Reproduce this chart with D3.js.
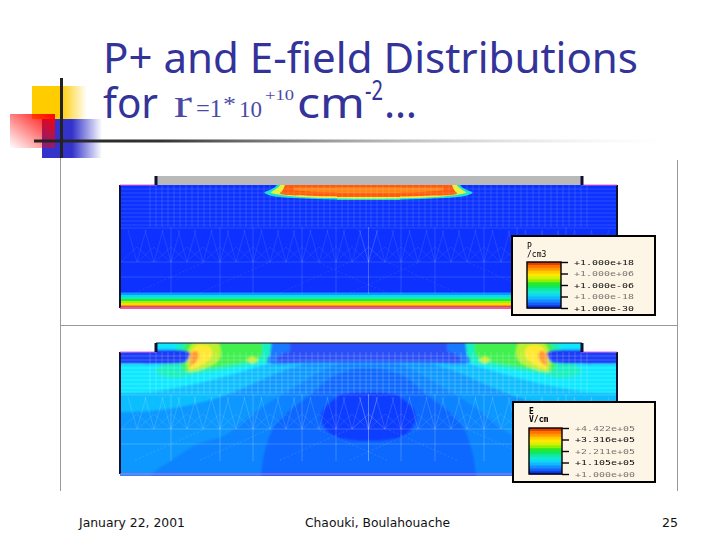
<!DOCTYPE html>
<html>
<head>
<meta charset="utf-8">
<script src="https://cdn.jsdelivr.net/npm/d3@7"></script>
<style>
  html, body { margin: 0; padding: 0; background: #fff; }
  svg { display: block; }
  .title { font-family: "Noto Sans", sans-serif; fill: #333399; }
  .foot { font-family: "DejaVu Sans", sans-serif; font-size: 13px; fill: #111; }
  .odd { font-family: "Liberation Serif", serif; fill: #4a4aa6; }
  .legend text { font-family: "DejaVu Sans Mono", monospace; font-size: 10px; fill: #000; }
  .legend text.name { font-size: 8px; }
</style>
</head>
<body>
<script>
// all device coordinates below: x and depth in simulation units
var gateRange = [3.6, 46.2];
var deviceWidth = 49.7;

var deviceOutline = [[0, 0], [3.6, 0], [3.6, -0.9], [46.2, -0.9], [46.2, 0], [49.7, 0], [49.7, 12.4], [0, 12.4]];

// P+ panel
var holeBackground = '#0a30ff';
var holeContours = [
  { color: '#10e0d0', pts: [[15.8, -2], [15.7, 0], [15.1, 0.45], [14.45, 0.75], [15, 1.05], [19, 1.38], [25, 1.5], [28, 1.5], [28, 1.5], [28, -2], [28, -2]] },
  { color: '#e8f030', pts: [[16.1, -2], [16, 0], [15.6, 0.4], [15.1, 0.75], [16, 0.98], [19, 1.26], [25, 1.36], [28, 1.36], [28, 1.36], [28, -2], [28, -2]] },
  { color: '#ff5a10', pts: [[16.6, -2], [16.5, 0], [16.2, 0.6], [16, 0.85], [19, 1.08], [25, 1.2], [28, 1.2], [28, 1.2], [28, -2], [28, -2]] },
  { color: '#ff8412', pts: [[17.4, 0.25], [25, 0.25], [28, 0.25], [28, 0.25], [28, 0.8], [28, 0.8], [25, 0.8], [20, 0.72], [17.4, 0.55]] }
];
var holeStripeDepths = [10.75, 11, 11.2, 11.4, 11.6, 11.8, 12, 12.15];
var holeStripeColors = ['#0a98ff', '#0ad8f8', '#10f0b0', '#18ee40', '#a8f000', '#ffd800', '#ff9800', '#ff5040'];

// E-field panel
var fieldBackground = '#0a68ff';
var fieldContours = [
  { color: '#0a84ff', pts: [[-2, -3], [-2, 14], [14.1, 14], [14.1, 12.4], [14.5, 9.8], [15.5, 7.3], [17, 5.8], [19, 4.3], [21, 2.6], [23, 1.8], [25, 1.6], [28, 1.8], [28, 1.8], [28, -3], [28, -3]] },
  { color: '#0a98ff', pts: [[-2, -3], [-2, 14], [2, 14], [3.2, 12.2], [5.5, 10.6], [7.5, 9.3], [10.5, 8.3], [12.5, 6.8], [14.5, 5.3], [17, 3.8], [20, 2], [22.5, 1], [25, 0.6], [28, 1], [28, 1], [28, -3], [28, -3]] },
  { color: '#0abeff', pts: [[-2, -3], [-2, 6], [0, 6], [3, 5.9], [6, 5.5], [10, 4.5], [13, 3.3], [16, 2], [19, 1], [21, 0], [22, -3]] },
  { color: '#10e8ff', pts: [[-2, -3], [-2, 4.1], [0, 4.1], [3, 4], [7, 3.3], [11, 2.3], [14, 1.4], [17, 0.6], [18, -0.2], [18.5, -3]] },
  { color: '#18f0c0', pts: [[3.4, 2], [5, 2.6], [8, 2.2], [11, 1.7], [14.3, 1.1], [15.6, 0.5], [15.6, -1.2], [6.2, -1.2], [5.2, 0.4]] },
  { color: '#40f050', pts: [[6.3, 1.9], [9, 1.6], [12, 1.1], [14, 0.5], [14, -1.2], [7, -1.2], [6, 0.5]] },
  { color: '#b8f030', pts: [[6.8, 2], [8, 1.8], [9.8, 0.9], [10.1, 0], [9.7, -1], [7.4, -1], [6.6, 0.4]] },
  { color: '#ffe830', pts: [[7, 1.7], [8.2, 1.3], [9.2, 0.4], [9, -0.5], [7.6, -0.6], [6.9, 0.4]] },
  { color: '#ff9a30', pts: [[7, 1.45], [7.6, 1], [7.9, 0.3], [7.6, -0.1], [7, 0.1]] },
  { color: '#c8f030', pts: [[12.6, 0.8], [13.2, 0.45], [13.8, 0.8], [13.2, 1.15]] },
  { color: '#1e3cf8', pts: [[-1, 0], [6.9, 0], [6.9, 0.5], [6.6, 1], [5, 1.18], [-1, 1.18]] },
  { color: '#1a78ff', pts: [[15.2, -1.2], [28, -1.2], [28, -1.2], [28, 1.05], [28, 1.05], [20, 1.1], [14.7, 1], [15, 0.3]] },
  { color: '#2a50f8', pts: [[17, -1.2], [28, -1.2], [28, -1.2], [28, 0.9], [28, 0.9], [20, 0.95], [15.6, 0.85], [16.2, 0.2], [17, 0]] },
  { color: '#0a3cff', pts: [[28, 4.3], [25, 4], [22.5, 4.2], [20.8, 5.2], [20.1, 6.5], [20.8, 8], [22.5, 8.7], [25, 8.9], [28, 8.6]] }
];

// solver mesh, left half
var meshRows = [0.4, 0.8, 1.2, 1.6, 2, 2.4, 2.8, 3.2, 3.6, 4];
var meshColumns = [3, 3.6, 4.2, 4.8, 5.4, 6, 6.6, 7.2, 7.8, 8.4, 9, 9.6, 10.2, 10.8, 11.4, 12, 12.6, 13.2, 13.8, 14.4, 15, 15.6, 16.2, 16.8, 17.4, 18, 18.6, 19.2, 19.8, 20.4, 21, 21.6, 22.2, 22.8, 23.4, 24, 24.6];
var meshHorizontals = [4.3, 7.7, 9.2];
var meshVerticals = [5.1, 10, 13.3, 18.2, 21.6, 24.85];
var meshFans = [1.7, 3.4, 5.1, 6.7, 8.3, 10, 11.6, 13.3, 15, 16.6, 18.2, 19.9, 21.6, 23.2, 24.85];
var meshDiagonals = [1.5, 8, 16, 23];

// legends
var legendBands = ['#d84000', '#ff7000', '#ff9a00', '#ffc800', '#ffe800', '#d8f000', '#90f000', '#30e820', '#10e860', '#10e8a0', '#10e8d0', '#10d8f0', '#10b8ff', '#1090ff', '#1060ff', '#0a30e0'];
var holeLegendTicks = [18, 6, -6, -18, -30];
var holeLegendLabels = ['+1.000e+18', '+1.000e+06', '+1.000e-06', '+1.000e-18', '+1.000e-30'];
var fieldLegendTicks = [442200, 331600, 221100, 110500, 1];
var fieldLegendLabels = ['+4.422e+05', '+3.316e+05', '+2.211e+05', '+1.105e+05', '+1.000e+00'];

var svg = d3.select('body').append('svg').attr('width', 720).attr('height', 540);
var defs = svg.append('defs');

var soft = defs.append('filter').attr('id', 'soft');
soft.append('feGaussianBlur').attr('stdDeviation', 0.4);
var softer = defs.append('filter').attr('id', 'softer');
softer.append('feGaussianBlur').attr('stdDeviation', 0.45);
var wash = defs.append('filter').attr('id', 'wash').attr('x', '-5%').attr('y', '-5%').attr('width', '110%').attr('height', '110%');
wash.append('feGaussianBlur').attr('stdDeviation', 0.9);

function fade(id, x2, y2, stops) {
  var grad = defs.append('linearGradient').attr('id', id).attr('x1', 0).attr('y1', y2 ? 1 : 0).attr('x2', x2).attr('y2', 0);
  stops.forEach(function (s) {
    grad.append('stop').attr('offset', s[0]).attr('stop-color', s[1]).attr('stop-opacity', s[2]);
  });
}
fade('yellowFade', 1, 0, [[0, '#ffcc00', 1], [0.52, '#ffcc00', 1], [1, '#ffcc00', 0]]);
fade('blueFade', 1, 0, [[0, '#3333cc', 1], [0.5, '#3333cc', 1], [1, '#3333cc', 0]]);
fade('redFade', 1, 1, [[0, '#ff0000', 0], [1, '#ff0000', 1]]);
fade('ruleFade', 1, 0, [[0, '#222222', 1], [0.2, '#333333', 1], [1, '#dddddd', 0]]);

// slide decoration
svg.append('rect').attr('x', 32).attr('y', 86).attr('width', 55).attr('height', 33).attr('fill', 'url(#yellowFade)');
svg.append('rect').attr('x', 42).attr('y', 119).attr('width', 60).attr('height', 39).attr('fill', 'url(#blueFade)');
svg.append('rect').attr('x', 10).attr('y', 114).attr('width', 45).attr('height', 34).attr('fill', 'url(#redFade)');
svg.append('rect').attr('x', 34).attr('y', 139.5).attr('width', 636).attr('height', 3).attr('fill', 'url(#ruleFade)');
svg.append('rect').attr('x', 60).attr('y', 78).attr('width', 3).attr('height', 80).attr('fill', '#222');

// frame round the two plots
var frame = svg.append('g').attr('stroke', '#9a9a9a').attr('stroke-width', 1);
frame.append('line').attr('x1', 60.5).attr('x2', 60.5).attr('y1', 158).attr('y2', 491);
frame.append('line').attr('x1', 677.5).attr('x2', 677.5).attr('y1', 160).attr('y2', 491);
frame.append('line').attr('x1', 60).attr('x2', 677).attr('y1', 325.5).attr('y2', 325.5);

// title
var title = svg.append('g');
title.append('text').attr('class', 'title').attr('x', 103).attr('y', 73).attr('font-size', 41)
  .attr('textLength', 535).attr('lengthAdjust', 'spacingAndGlyphs').text('P+ and E-field Distributions');
title.append('text').attr('class', 'title').attr('x', 103).attr('y', 118).attr('font-size', 41)
  .attr('textLength', 55).attr('lengthAdjust', 'spacingAndGlyphs').text('for');
title.append('text').attr('class', 'odd').attr('x', 174).attr('y', 117).attr('font-size', 40)
  .attr('textLength', 18).attr('lengthAdjust', 'spacingAndGlyphs').text('r');
title.append('text').attr('class', 'odd').attr('x', 196).attr('y', 117).attr('font-size', 25)
  .attr('textLength', 26).attr('lengthAdjust', 'spacingAndGlyphs').text('=1');
title.append('text').attr('class', 'odd').attr('x', 223).attr('y', 111).attr('font-size', 22)
  .attr('textLength', 13).attr('lengthAdjust', 'spacingAndGlyphs').text('*');
title.append('text').attr('class', 'odd').attr('x', 239).attr('y', 117).attr('font-size', 23)
  .attr('textLength', 23).attr('lengthAdjust', 'spacingAndGlyphs').text('10');
title.append('text').attr('class', 'odd').attr('x', 265).attr('y', 100).attr('font-size', 15)
  .attr('textLength', 29).attr('lengthAdjust', 'spacingAndGlyphs').text('+10');
title.append('text').attr('class', 'title').attr('x', 297).attr('y', 118).attr('font-size', 41)
  .attr('textLength', 68).attr('lengthAdjust', 'spacingAndGlyphs').text('cm');
title.append('text').attr('class', 'title').attr('x', 365).attr('y', 100).attr('font-size', 27)
  .attr('textLength', 18).attr('lengthAdjust', 'spacingAndGlyphs').text('-2');
title.append('text').attr('class', 'title').attr('x', 384).attr('y', 118).attr('font-size', 41)
  .attr('textLength', 33).attr('lengthAdjust', 'spacingAndGlyphs').text('…');

// footer
svg.append('text').attr('class', 'foot').attr('x', 79).attr('y', 527).attr('textLength', 106).attr('lengthAdjust', 'spacingAndGlyphs').text('January 22, 2001');
svg.append('text').attr('class', 'foot').attr('x', 305).attr('y', 527).attr('textLength', 145).attr('lengthAdjust', 'spacingAndGlyphs').text('Chaouki, Boulahouache');
svg.append('text').attr('class', 'foot').attr('x', 662).attr('y', 527).attr('textLength', 16).attr('lengthAdjust', 'spacingAndGlyphs').text('25');

var xLeft = d3.scaleLinear().domain([0, deviceWidth]).range([120, 617]);
var xRight = d3.scaleLinear().domain([0, deviceWidth]).range([617, 120]);

function drawPanel(id, yScale, background, contours, blurFilter) {
  var panel = svg.append('g');
  var outline = d3.line().x(function (d) { return xLeft(d[0]); }).y(function (d) { return yScale(d[1]); });

  defs.append('clipPath').attr('id', id).append('path').attr('d', outline(deviceOutline) + 'Z');

  var body = panel.append('g').attr('clip-path', 'url(#' + id + ')').append('g').attr('filter', 'url(#soft)');
  var under = body.append('g').attr('filter', blurFilter);
  under.append('rect').attr('x', 100).attr('y', yScale(-3)).attr('width', 540).attr('height', yScale(16) - yScale(-3)).attr('fill', background);

  // each contour on both sides before the next one, so inner bands stay on top
  contours.forEach(function (c) {
    [xLeft, xRight].forEach(function (x) {
      var smooth = d3.line().x(function (d) { return x(d[0]); }).y(function (d) { return yScale(d[1]); }).curve(d3.curveCatmullRom);
      under.append('path').attr('d', smooth(c.pts) + 'Z').attr('fill', c.color);
    });
  });

  return { panel: panel, body: body, outline: outline };
}

function drawMesh(body, yScale, opacity) {
  var mesh = body.append('g').attr('stroke', '#ffffff').attr('stroke-width', 0.7).attr('stroke-opacity', opacity).attr('fill', 'none');
  mesh.selectAll('.row').data(meshRows.concat(meshHorizontals)).enter().append('line').attr('class', 'row')
    .attr('x1', xLeft(0)).attr('x2', xLeft(deviceWidth))
    .attr('y1', function (d) { return yScale(d); }).attr('y2', function (d) { return yScale(d); });
  [xLeft, xRight].forEach(function (x) {
    mesh.selectAll(null).data(meshColumns).enter().append('line')
      .attr('x1', function (d) { return x(d); }).attr('x2', function (d) { return x(d); })
      .attr('y1', yScale(0)).attr('y2', yScale(4.2));
    mesh.selectAll(null).data(meshVerticals).enter().append('line')
      .attr('x1', function (d) { return x(d); }).attr('x2', function (d) { return x(d); })
      .attr('y1', yScale(4.2)).attr('y2', yScale(10.9));
    // fans between the dotted row and the coarse grid
    mesh.selectAll(null).data(meshFans).enter().append('path')
      .attr('stroke-opacity', opacity * 0.7)
      .attr('d', function (d) {
        return 'M' + x(d - 0.9) + ',' + yScale(4.5) + 'L' + x(d) + ',' + yScale(7.7) + 'L' + x(d + 0.9) + ',' + yScale(4.5);
      });
    mesh.selectAll(null).data(meshFans).enter().append('path')
      .attr('stroke-opacity', opacity * 0.5)
      .attr('d', function (d) {
        return 'M' + x(d - 1.65) + ',' + yScale(7.7) + 'L' + x(d) + ',' + yScale(6.2) + 'L' + x(d + 1.65) + ',' + yScale(7.7);
      });
    mesh.selectAll(null).data(meshDiagonals).enter().append('line')
      .attr('stroke-dasharray', '2 2').attr('stroke-opacity', opacity * 0.6)
      .attr('x1', function (d) { return x(d); }).attr('x2', function (d) { return x(d + 7); })
      .attr('y1', yScale(10.8)).attr('y2', yScale(7.7));
  });
}

function drawEdges(parts, yScale, bottom) {
  var edge = parts.panel.append('g').attr('fill', 'none');
  edge.append('line').attr('x1', xLeft(0)).attr('x2', xLeft(0)).attr('y1', yScale(0)).attr('y2', yScale(bottom))
    .attr('stroke', '#101030').attr('stroke-width', 2);
  edge.append('line').attr('x1', xLeft(deviceWidth)).attr('x2', xLeft(deviceWidth)).attr('y1', yScale(0)).attr('y2', yScale(bottom))
    .attr('stroke', '#101030').attr('stroke-width', 2);
  edge.append('line').attr('x1', xLeft(0)).attr('x2', xLeft(deviceWidth)).attr('y1', yScale(bottom)).attr('y2', yScale(bottom))
    .attr('stroke', '#f060e0').attr('stroke-width', 1.2);
  edge.append('line').attr('x1', xLeft(0)).attr('x2', xLeft(gateRange[0])).attr('y1', yScale(0)).attr('y2', yScale(0))
    .attr('stroke', '#f060e0').attr('stroke-width', 1);
  edge.append('line').attr('x1', xLeft(gateRange[1])).attr('x2', xLeft(deviceWidth)).attr('y1', yScale(0)).attr('y2', yScale(0))
    .attr('stroke', '#f060e0').attr('stroke-width', 1);
  [gateRange[0], gateRange[1]].forEach(function (g) {
    edge.append('line').attr('x1', xLeft(g)).attr('x2', xLeft(g)).attr('y1', yScale(-0.9)).attr('y2', yScale(0))
      .attr('stroke', '#101030').attr('stroke-width', 3);
  });
}

// top plot
var yHole = d3.scaleLinear().domain([0, 12.3]).range([185, 308]);
var holes = drawPanel('holeClip', yHole, holeBackground, holeContours, 'url(#soft)');
holes.body.selectAll('.stripe').data(holeStripeColors).enter().append('rect').attr('class', 'stripe')
  .attr('x', xLeft(0)).attr('width', xLeft(deviceWidth) - xLeft(0))
  .attr('y', function (d, i) { return yHole(holeStripeDepths[i]); })
  .attr('height', function (d, i) { return yHole(holeStripeDepths[i + 1] || 12.4) - yHole(holeStripeDepths[i]); })
  .attr('fill', function (d) { return d; });
holes.body.append('rect').attr('x', xLeft(gateRange[0])).attr('width', xLeft(gateRange[1]) - xLeft(gateRange[0]))
  .attr('y', yHole(-0.9)).attr('height', yHole(0) - yHole(-0.9)).attr('fill', '#b9b9b9');
drawMesh(holes.body, yHole, 0.2);
drawEdges(holes, yHole, 12.3);

// bottom plot
var yField = d3.scaleLinear().domain([0, 12.2]).range([352, 474]);
var field = drawPanel('fieldClip', yField, fieldBackground, fieldContours, 'url(#wash)');
drawMesh(field.body, yField, 0.3);
drawEdges(field, yField, 12.2);
field.panel.append('line').attr('x1', xLeft(gateRange[0])).attr('x2', xLeft(gateRange[1]))
  .attr('y1', yField(-0.9)).attr('y2', yField(-0.9)).attr('stroke', '#101030').attr('stroke-width', 1);

// legends
function drawLegend(box, scale, ticks, labels, names, faint) {
  var g = svg.append('g').attr('class', 'legend');
  g.append('rect').attr('x', box.x).attr('y', box.y).attr('width', box.w).attr('height', box.h)
    .attr('fill', '#fdf5e6').attr('stroke', '#000').attr('stroke-width', 2);

  var bands = d3.scaleBand().domain(d3.range(legendBands.length)).range(scale.range());
  g.selectAll('.band').data(legendBands).enter().append('rect').attr('class', 'band')
    .attr('x', box.barX).attr('width', box.barW)
    .attr('y', function (d, i) { return bands(i); })
    .attr('height', bands.bandwidth() + 0.5)
    .attr('fill', function (d) { return d; });
  g.append('rect').attr('x', box.barX).attr('y', scale.range()[0]).attr('width', box.barW)
    .attr('height', scale.range()[1] - scale.range()[0]).attr('fill', 'none').attr('stroke', '#000').attr('stroke-width', 1.4);

  var axis = d3.axisRight(scale).tickValues(ticks).tickSize(7).tickPadding(6)
    .tickFormat(function (d, i) { return labels[i]; });
  var ag = g.append('g').attr('transform', 'translate(' + (box.barX + box.barW) + ',0)').call(axis);
  ag.select('.domain').remove();
  ag.selectAll('line').attr('stroke', '#000').attr('stroke-width', 1.4);
  ag.selectAll('text')
    .attr('transform', 'scale(1,0.72)')
    .attr('dy', '0.32em')
    .attr('filter', 'url(#softer)')
    .style('opacity', function (d, i) { return faint.indexOf(i) >= 0 ? 0.55 : 0.95; });

  g.selectAll('.name').data(names).enter().append('text').attr('class', 'name')
    .attr('x', box.barX).attr('y', function (d, i) { return box.nameY + i * 8; })
    .attr('font-weight', box.bold ? 'bold' : 'normal')
    .attr('filter', 'url(#softer)')
    .text(function (d) { return d; });
}

var holeLegendScale = d3.scalePoint().domain(holeLegendTicks).range([262, 308]);
drawLegend({ x: 512, y: 236, w: 143, h: 79, barX: 527, barW: 34, nameY: 249, bold: false },
  holeLegendScale, holeLegendTicks, holeLegendLabels, ['P', '/cm3'], [1, 3]);

var fieldLegendScale = d3.scalePoint().domain(fieldLegendTicks).range([428, 474]);
drawLegend({ x: 513, y: 402, w: 142, h: 80, barX: 529, barW: 33, nameY: 414, bold: true },
  fieldLegendScale, fieldLegendTicks, fieldLegendLabels, ['E', 'V/cm'], [0, 2, 4]);
</script>
</body>
</html>
